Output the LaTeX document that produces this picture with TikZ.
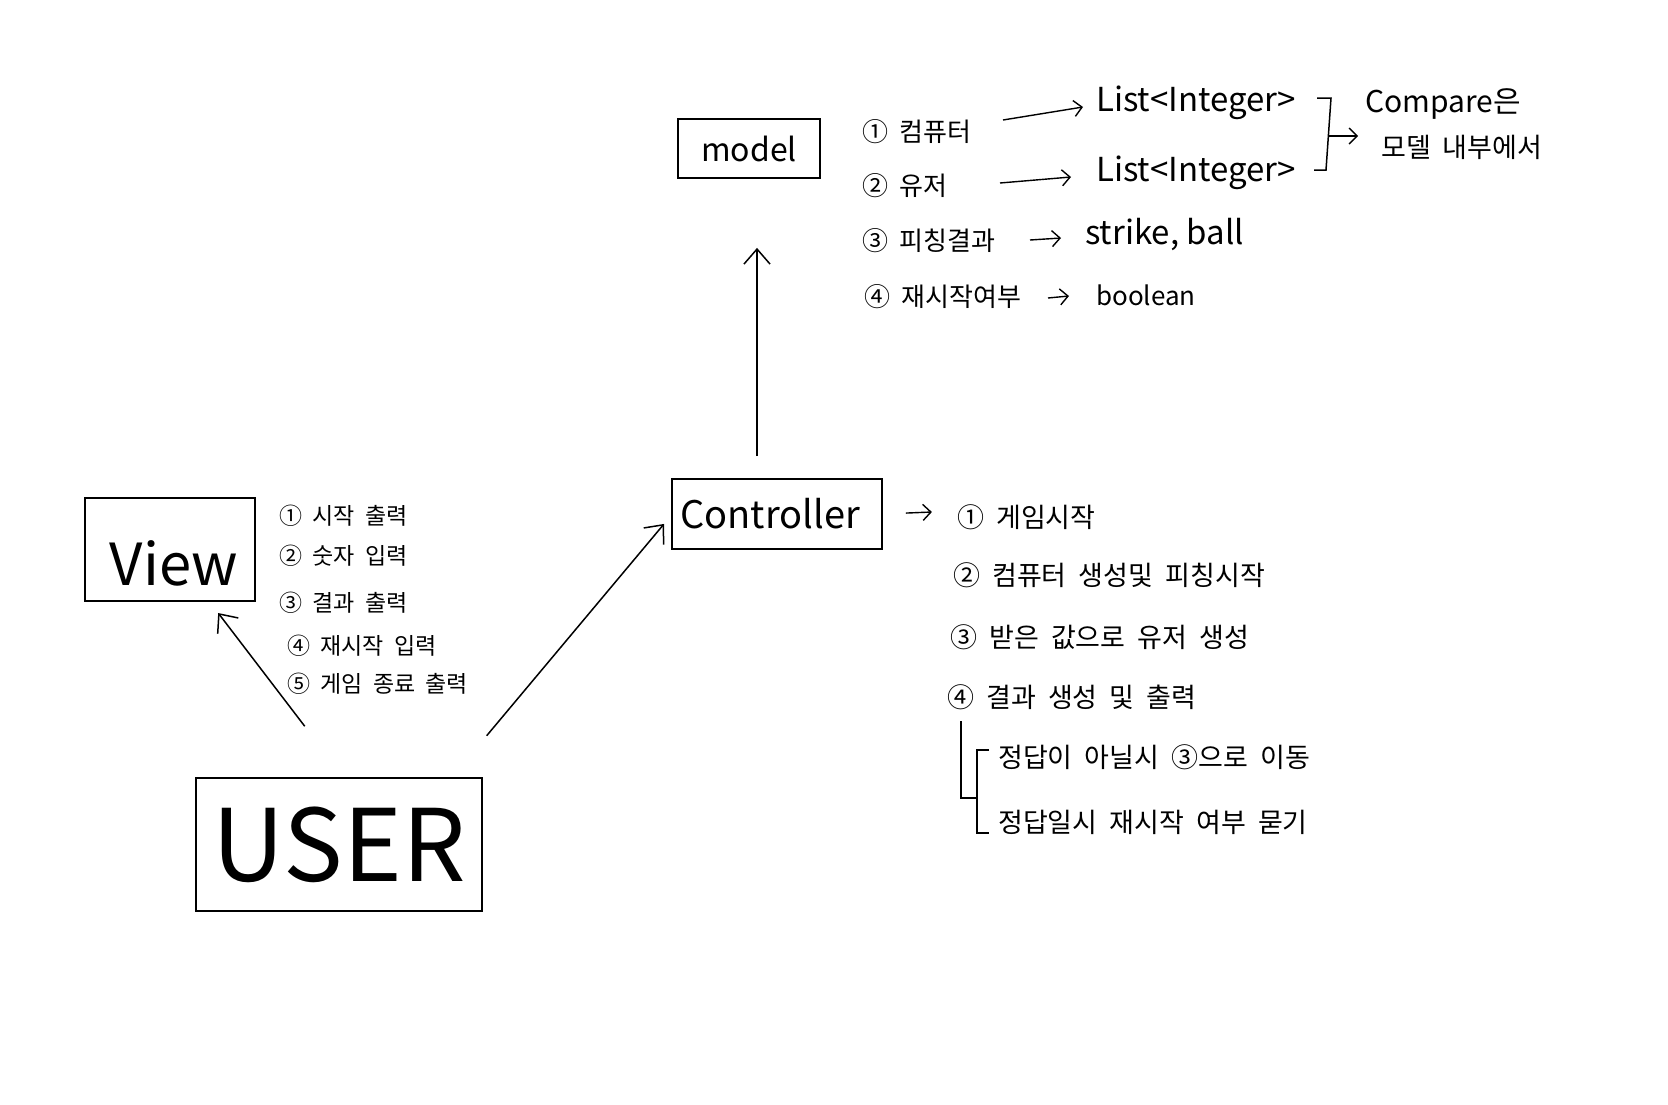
\documentclass[tikz,border=0pt]{standalone}
\usepackage{fontspec}
\setmainfont{Noto Sans CJK KR}
\newfontfamily\krw{Noto Sans CJK KR}[WordSpace=2]
\usetikzlibrary{arrows.meta}
\begin{document}
\begin{tikzpicture}[x=1pt,y=-1pt,
  box/.style={draw, line width=1.8pt, inner sep=0pt},
  conn/.style={line width=1.5pt, -{Straight Barb[length=15pt,width=26pt]}},
  sarr/.style={line width=1.4pt, -{Straight Barb[length=8pt,width=16pt]}},
  pen/.style={line width=1.5pt},
  item/.style={anchor=west, inner sep=0pt},
  fm/.style={font=\krw\fontsize{26}{30}\selectfont},
  fv/.style={font=\krw\fontsize{23}{27}\selectfont},
  fc/.style={font=\krw\fontsize{27}{31}\selectfont},
  fs/.style={font=\krw\fontsize{27}{31}\selectfont}
]
\fill[white] (0,0) rectangle (1668,1104);
\useasboundingbox (0,0) rectangle (1668,1104);

% ---- boxes
\node[box, minimum width=142pt, minimum height=59pt, font=\fontsize{32}{36}\selectfont] (model) at (749,148.5) {model};
\node[box, minimum width=210pt, minimum height=70pt] (ctrl) at (777,514) {};
\node[inner sep=0pt, font=\fontsize{38}{42}\selectfont] (ctrllbl) at (770,514) {Controller};
\node[box, minimum width=170pt, minimum height=103pt] (view) at (170,549.5) {};
\node[inner sep=0pt, font=\fontsize{58}{62}\selectfont] (viewlbl) at (174,563) {View};
\node[box, minimum width=286pt, minimum height=133pt, font=\fontsize{100}{104}\selectfont] (user) at (339,844.5) {USER};

% ---- main connectors
\draw[conn, shorten <=22pt, shorten >=69pt] ([xshift=-20pt]ctrl.north) -- ([xshift=8pt]model.south);
\draw[conn, shorten <=64pt, shorten >=14pt] ([xshift=4.6pt]user.north) -- ([xshift=39.7pt]view.south);
\draw[conn, shorten <=54pt, shorten >=11pt] ([xshift=113pt]user.north) -- ([yshift=-1.5pt]ctrl.west);

% ---- model list
\node[item, fm] (m1) at (862,132) {① 컴퓨터};
\node[item, fm] (m2) at (862,186) {② 유저};
\node[item, fm] (m3) at (862,241) {③ 피칭결과};
\node[item, fm] (m4) at (864,297) {④ 재시작여부};
\node[item, font=\fontsize{33}{37}\selectfont] (l1) at (1096,103) {List<Integer>};
\node[item, font=\fontsize{33}{37}\selectfont] (l2) at (1096,173) {List<Integer>};
\node[item, font=\fontsize{33}{37}\selectfont] (l3) at (1085,234) {strike, ball};
\node[item, font=\fontsize{26}{30}\selectfont] (l4) at (1096,295) {boolean};
\coordinate (a1s) at (1003,120); \coordinate (a1e) at (1083,107);
\coordinate (a2s) at (1000,183); \coordinate (a2e) at (1071,177);
\coordinate (a3s) at (1030,240); \coordinate (a3e) at (1061,238);
\coordinate (a4s) at (1048,298); \coordinate (a4e) at (1069,296);
\draw[sarr] (a1s) -- (a1e);
\draw[sarr] (a2s) -- (a2e);
\draw[sarr] (a3s) -- (a3e);
\draw[sarr] (a4s) -- (a4e);
% bracket + compare
\coordinate (b1) at (1317,98);
\coordinate (b2) at (1314,170);
\draw[pen] (b1) -- (1331,98) -- (1326,170) -- (b2);
\coordinate (b3) at (1328,136); \coordinate (b4) at (1358,136);
\draw[sarr] (b3) -- (b4);
\node[item, font=\fontsize{30}{34}\selectfont] (cmp1) at (1365,104) {Compare은};
\node[item, font=\krw\fontsize{27}{31}\selectfont] (cmp2) at (1381,147) {모델 내부에서};

% ---- view list
\node[item, fv] (v1) at (279,516) {① 시작 출력};
\node[item, fv] (v2) at (279,556) {② 숫자 입력};
\node[item, fv] (v3) at (279,603) {③ 결과 출력};
\node[item, fv] (v4) at (287,646) {④ 재시작 입력};
\node[item, fv] (v5) at (287,684) {⑤ 게임 종료 출력};

% ---- controller list
\draw[sarr, shorten <=23pt] (ctrl.east) -- ++(49,-2);
\node[item, fc] (c1) at (957,517) {① 게임시작};
\node[item, fc] (c2) at (953,575) {② 컴퓨터 생성및 피칭시작};
\node[item, fc] (c3) at (950,637) {③ 받은 값으로 유저 생성};
\node[item, fc] (c4) at (947,697) {④ 결과 생성 및 출력};
\coordinate (t1) at (961,721);
\coordinate (t2) at (976,798);
\draw[pen] (t1) |- (t2);
\coordinate (t3) at (989,750);
\coordinate (t4) at (989,833);
\draw[pen] (t3) -| (977,833) -- (t4);
\node[item, fs] (s1) at (998,757) {정답이 아닐시 ③으로 이동};
\node[item, fs] (s2) at (998,822) {정답일시 재시작 여부 묻기};
\end{tikzpicture}
\end{document}
